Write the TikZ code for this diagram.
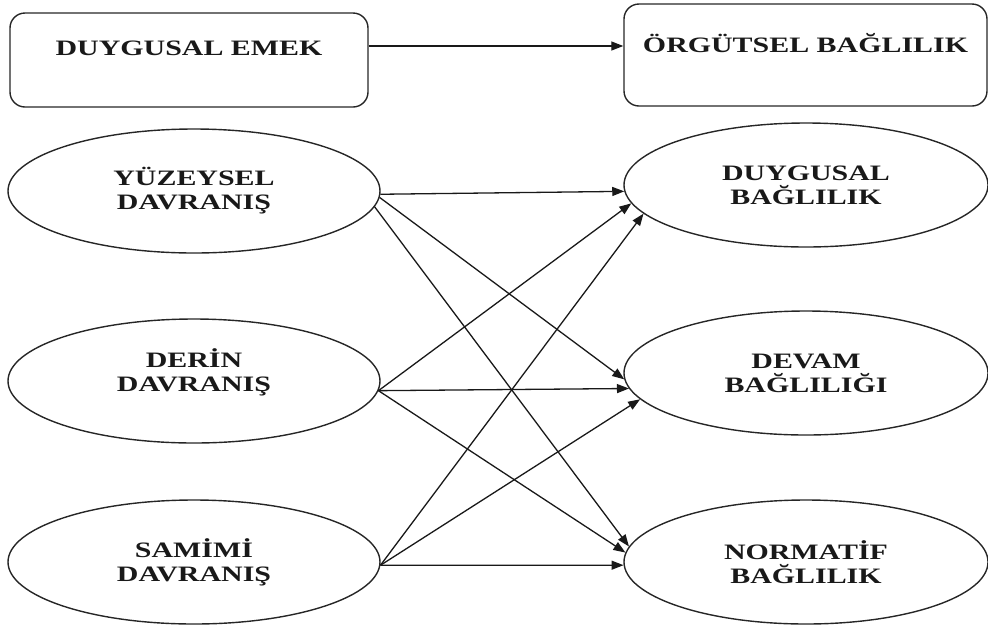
\documentclass[tikz,border=0pt]{standalone}
\usepackage{fontspec}
\setmainfont{Liberation Serif}[FakeStretch=1.36]
\usetikzlibrary{shapes.geometric,arrows.meta}
\begin{document}
\begin{tikzpicture}[x=1pt,y=-1pt,
  every node/.style={font=\fontsize{22}{24}\selectfont\bfseries, text=black!90, align=center},
  rbox/.style={draw=black!85, rounded corners=15pt, line width=1.4pt, inner sep=0pt},
  oval/.style={draw=black!85, ellipse, line width=1.4pt, inner sep=0pt, minimum width=372pt, minimum height=124pt},
  roval/.style={oval, minimum width=364pt},
  arr/.style={draw=black!90, -{Triangle[length=12pt,width=9pt]}, line width=1.3pt}]
\useasboundingbox (0,0) rectangle (988,625);
\node[rbox, minimum width=358pt, minimum height=94pt] (em) at (189,60) {DUYGUSAL EMEK\\\mbox{}};
\node[rbox, minimum width=363pt, minimum height=102pt] (ob) at (805.5,55) {ÖRGÜTSEL BAĞLILIK\\\mbox{}};
\node[oval] (ys) at (194,191) {YÜZEYSEL\\DAVRANIŞ};
\node[oval] (dr) at (194,381) {DERİN\\DAVRANIŞ\\[-2pt]\mbox{}};
\node[oval] (sm) at (194,562) {SAMİMİ\\DAVRANIŞ};
\node[roval] (db) at (806,185) {DUYGUSAL\\BAĞLILIK};
\node[roval] (dv) at (806,373) {DEVAM\\BAĞLILIĞI};
\node[roval] (no) at (806,562) {NORMATİF\\BAĞLILIK};
\draw[arr] ([yshift=14pt]em.east) -- ([yshift=9pt]ob.west);
\draw[arr] (ys.-1) -- (db.182);
\draw[arr] (ys.-2) -- (dv.182);
\draw[arr] (ys.-5.5) -- (no.175.5);
\draw[arr] (dr.-3) -- (db.186);
\draw[arr] (dr.-3) -- (dv.185.5);
\draw[arr] (dr.-3) -- (no.177);
\draw[arr] (sm.-1.5) -- (db.190);
\draw[arr] (sm.-1.5) -- (dv.189);
\draw[arr] (sm.-1.5) -- (no.181.5);
\end{tikzpicture}
\end{document}
